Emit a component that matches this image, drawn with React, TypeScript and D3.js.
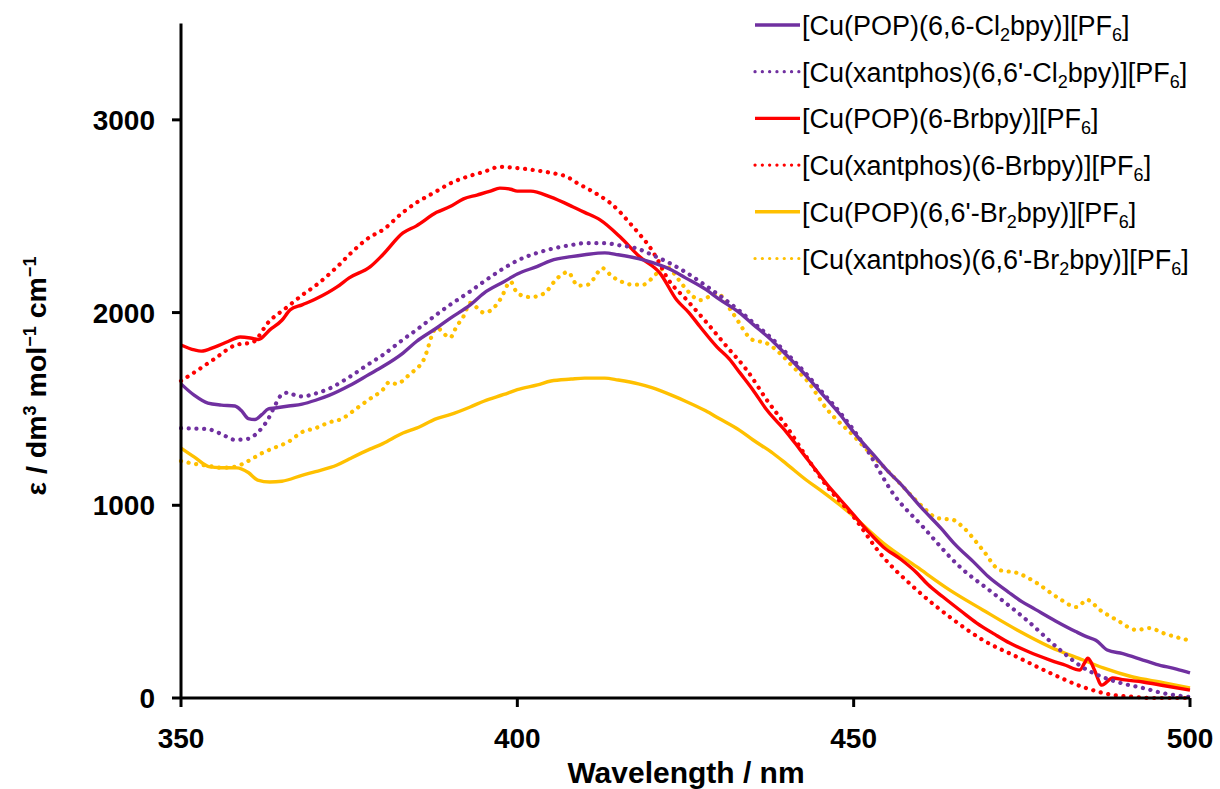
import React from "react";
import * as d3 from "d3";

// ---------- DATA ----------
const xTicks = [350, 400, 450, 500];
const yTicks = [0, 1000, 2000, 3000];
const xTitle = "Wavelength / nm";

const legendLabels = [
  "[Cu(POP)(6,6-Cl_2bpy)][PF_6]",
  "[Cu(xantphos)(6,6'-Cl_2bpy)][PF_6]",
  "[Cu(POP)(6-Brbpy)][PF_6]",
  "[Cu(xantphos)(6-Brbpy)][PF_6]",
  "[Cu(POP)(6,6'-Br_2bpy)][PF_6]",
  "[Cu(xantphos)(6,6'-Br_2bpy)][PF_6]",
];

// [Cu(POP)(6,6-Cl2bpy)][PF6] - purple solid
const popCl2Nm = [350,352,354,356,358,359,360,361,362,363,364,366,368,370,372,375,378,380,383,385,388,390,393,395,398,400,403,405,408,410,413,415,418,420,423,425,428,430,433,435,438,440,443,445,448,450,453,455,457,460,463,465,468,470,473,475,477,480,483,484.7,486,487.7,490,493,495,498,500];
const popCl2Val = [1630,1570,1530,1520,1515,1490,1450,1445,1470,1500,1505,1515,1525,1545,1570,1620,1680,1720,1790,1850,1920,1970,2040,2100,2160,2200,2240,2270,2290,2300,2310,2300,2280,2260,2220,2180,2120,2070,2000,1940,1850,1780,1670,1590,1470,1380,1260,1180,1110,990,880,800,700,630,550,500,460,400,345,317,300,249,230,197,175,150,130];

// [Cu(xantphos)(6,6'-Cl2bpy)][PF6] - purple dotted
const xanCl2Nm = [350,352,354,356,358,360,361,362,363,364,365,366,367,368,369,370,372,375,378,380,383,385,388,390,393,395,398,400,403,405,408,410,413,415,418,420,423,425,428,430,433,435,438,440,443,445,448,450,452,455.8,460.3,465.8,470.7,475.7,480.7,484,487,490,493,496,500];
const xanCl2Val = [1400,1398,1395,1370,1340,1345,1365,1400,1450,1520,1575,1585,1570,1565,1570,1580,1605,1665,1735,1780,1860,1910,1990,2040,2110,2160,2230,2270,2310,2330,2350,2360,2360,2350,2330,2300,2250,2210,2140,2090,2010,1950,1860,1790,1680,1600,1480,1390,1287,1064,888,680,545,405,249,160,109,75,52,25,5];

// [Cu(POP)(6-Brbpy)][PF6] - red solid
const popBrNm = [350,352,353,355,357,358.8,360.3,361.5,363.2,365,366.2,368,370,373.2,375,378.1,380,383,385,388,390,392,394,396,397.4,399,400,402,404.9,408.3,410,412.3,415.3,418.2,421.2,423.7,425.5,427.2,429.7,431.5,433.1,435,437.1,440,442,444,446,448,450,452,454.4,457,459.4,461,463.3,466,468.3,471,473.2,476,479.2,481.5,483.6,484.3,484.8,485.3,485.8,486.9,488.5,490,493,496,500];
const popBrVal = [1832,1806,1800,1821,1850,1873,1868,1860,1910,1960,2013,2040,2070,2133,2180,2237,2300,2413,2450,2520,2550,2590,2610,2630,2646,2640,2630,2630,2600,2548,2520,2481,2392,2289,2205,2065,2000,1925,1821,1760,1687,1600,1494,1380,1290,1200,1110,1030,950,870,784,720,649,590,524,450,389,330,285,240,197,170,145,180,207,185,145,67,104,95,83,65,41];

// [Cu(xantphos)(6-Brbpy)][PF6] - red dotted
const xanBrNm = [350,352,355,358,360.7,363,365.8,368,370,373.2,375,378,380,383,385,388,390,393,395,397.4,400,402.3,405,407.4,409,410.8,412.3,413.8,415.3,416.7,418.2,419.7,421,422.2,425.2,428.2,431.2,434.1,437.1,440,443,446,450,453.9,459.4,464.3,469.2,474.3,479.2,484.1,488.5,492,494,500];
const xanBrVal = [1645,1690,1760,1830,1847,1950,2029,2090,2140,2237,2300,2390,2429,2520,2570,2630,2670,2710,2730,2756,2750,2740,2725,2704,2670,2636,2605,2569,2520,2465,2405,2340,2265,2185,2065,1946,1821,1702,1546,1410,1250,1100,940,752,560,420,301,213,130,57,16,5,0,0];

// [Cu(POP)(6,6'-Br2bpy)][PF6] - yellow solid
const popBr2Nm = [350,352,354.3,356,358.3,360,361.4,363.2,365,368.1,370,373.2,375,378,380,383,385,388,390,393,395,398,400,403,405,408,410,413,415,418,420,423,425,428,430,433,435,438,440,443,445,448,449.4,454.4,459.4,464.3,469.2,474.3,479.2,484.1,487.1,491.5,496,500];
const popBr2Val = [1297,1250,1199,1195,1194,1170,1131,1121,1125,1157,1175,1209,1240,1290,1320,1375,1400,1450,1470,1510,1540,1575,1600,1625,1645,1655,1660,1660,1650,1630,1610,1570,1540,1490,1450,1390,1340,1270,1215,1130,1080,1000,960,804,680,560,457,353,265,197,156,109,80,52];

// [Cu(xantphos)(6,6'-Br2bpy)][PF6] - yellow dotted
const xanBr2Nm = [350,352,354,356,358,360,362,364,366,368,370,372,374,376,378,380,381,382,384,386,388,390,391,392,393,395,396,397.5,399,400,402,404,406,407.5,409,410.5,412.7,414,415.5,417,418.7,420.8,422.2,424,425.2,427.2,429.7,432,435,437,439,441,443,446,450,452,456.4,460.3,462.4,464.8,466.2,469.2,471.7,474.3,477.2,480.2,483.2,484.7,486.6,489.1,492.1,494,496,499.6];
const xanBr2Val = [1230,1215,1205,1195,1200,1230,1270,1300,1330,1380,1400,1430,1450,1500,1550,1600,1640,1630,1680,1750,1920,1870,1930,1980,2050,2000,2010,2070,2160,2100,2080,2100,2180,2210,2140,2145,2230,2190,2160,2145,2145,2205,2237,2170,2117,2065,2100,1998,1858,1842,1790,1718,1650,1500,1360,1287,1131,991,934,924,888,768,664,649,597,524,472,509,457,405,353,363,337,301];

const seriesNm = [popCl2Nm, xanCl2Nm, popBrNm, xanBrNm, popBr2Nm, xanBr2Nm];
const seriesVal = [popCl2Val, xanCl2Val, popBrVal, xanBrVal, popBr2Val, xanBr2Val];
const seriesColor = ["#7030A0", "#7030A0", "#FF0000", "#FF0000", "#FFC000", "#FFC000"];
const seriesDotted = [false, true, false, true, false, true];

// ---------- LAYOUT ----------
const W = 1220;
const H = 789;
const FONT = "'Liberation Sans', Arial, Helvetica, sans-serif";

function renderLabel(label: string) {
  const parts: React.ReactNode[] = [];
  let buf = "";
  let key = 0;
  let prevSub = false;
  for (let i = 0; i < label.length; i++) {
    const c = label[i];
    if (c === "_" && i + 1 < label.length) {
      if (buf) {
        parts.push(<tspan key={key++} dy={prevSub ? -6 : 0}>{buf}</tspan>);
        prevSub = false;
        buf = "";
      }
      parts.push(
        <tspan key={key++} dy={prevSub ? 0 : 6} fontSize={18}>
          {label[i + 1]}
        </tspan>
      );
      prevSub = true;
      i++;
    } else {
      buf += c;
    }
  }
  if (buf) parts.push(<tspan key={key++} dy={prevSub ? -6 : 0}>{buf}</tspan>);
  return parts;
}

export default function App() {
  const x = d3.scaleLinear().domain([350, 500]).range([181, 1190]);
  const y = d3.scaleLinear().domain([0, 3500]).range([698, 23.5]);

  const line = d3
    .line<[number, number]>()
    .x((d) => x(d[0]))
    .y((d) => y(Math.max(0, d[1])))
    .curve(d3.curveMonotoneX);

  const order = [5, 4, 3, 2, 1, 0];

  return (
    <svg
      width={W}
      height={H}
      style={{ position: "absolute", left: 0, top: 0, background: "#fff" }}
      fontFamily={FONT}
    >
      <rect x={0} y={0} width={W} height={H} fill="#fff" />
      {/* series */}
      {order.map((i) => {
        const pts: [number, number][] = seriesNm[i].map((n, k) => [n, seriesVal[i][k]]);
        return (
          <path
            key={i}
            d={line(pts) || ""}
            fill="none"
            stroke={seriesColor[i]}
            strokeWidth={seriesDotted[i] ? 4.2 : 3.4}
            strokeDasharray={seriesDotted[i] ? "0.1 7.6" : undefined}
            strokeLinecap={seriesDotted[i] ? "round" : "butt"}
            strokeLinejoin="round"
          />
        );
      })}

      {/* axes */}
      <line x1={x(350)} x2={x(500)} y1={y(0)} y2={y(0)} stroke="#000" strokeWidth={3} />
      <line x1={x(350)} x2={x(350)} y1={y(3500)} y2={y(0)} stroke="#000" strokeWidth={3} />
      {xTicks.map((t) => (
        <g key={"xt" + t}>
          <line x1={x(t)} x2={x(t)} y1={y(0)} y2={y(0) + 9} stroke="#000" strokeWidth={3} />
          <text
            x={x(t)}
            y={748}
            textAnchor="middle"
            fontSize={28}
            fontWeight="bold"
            fill="#000"
          >
            {t}
          </text>
        </g>
      ))}
      {yTicks.map((t) => (
        <g key={"yt" + t}>
          <line x1={x(350) - 9} x2={x(350)} y1={y(t)} y2={y(t)} stroke="#000" strokeWidth={3} />
          <text
            x={155}
            y={y(t) + 10}
            textAnchor="end"
            fontSize={28}
            fontWeight="bold"
            fill="#000"
          >
            {t}
          </text>
        </g>
      ))}

      {/* axis titles */}
      <text x={686} y={783} textAnchor="middle" fontSize={30} fontWeight="bold" fill="#000">
        {xTitle}
      </text>
      <text
        transform="translate(46,376) rotate(-90)"
        textAnchor="middle"
        fontSize={28.5}
        fontWeight="bold"
        fill="#000"
      >
        <tspan>ε / dm</tspan>
        <tspan dy={-10} fontSize={18}>3</tspan>
        <tspan dy={10}> mol</tspan>
        <tspan dy={-10} fontSize={18}>−1</tspan>
        <tspan dy={10}> cm</tspan>
        <tspan dy={-10} fontSize={18}>−1</tspan>
      </text>

      {/* legend */}
      {legendLabels.map((lab, i) => {
        const ly = 25 + i * 46.7;
        return (
          <g key={"lg" + i}>
            <line
              x1={755}
              x2={800}
              y1={ly}
              y2={ly}
              stroke={seriesColor[i]}
              strokeWidth={seriesDotted[i] ? 3.2 : 3.4}
              strokeDasharray={seriesDotted[i] ? "0.1 7.2" : undefined}
              strokeLinecap={seriesDotted[i] ? "round" : "butt"}
            />
            <text x={802} y={ly + 10} fontSize={27} fill="#000">
              {renderLabel(lab)}
            </text>
          </g>
        );
      })}
    </svg>
  );
}
